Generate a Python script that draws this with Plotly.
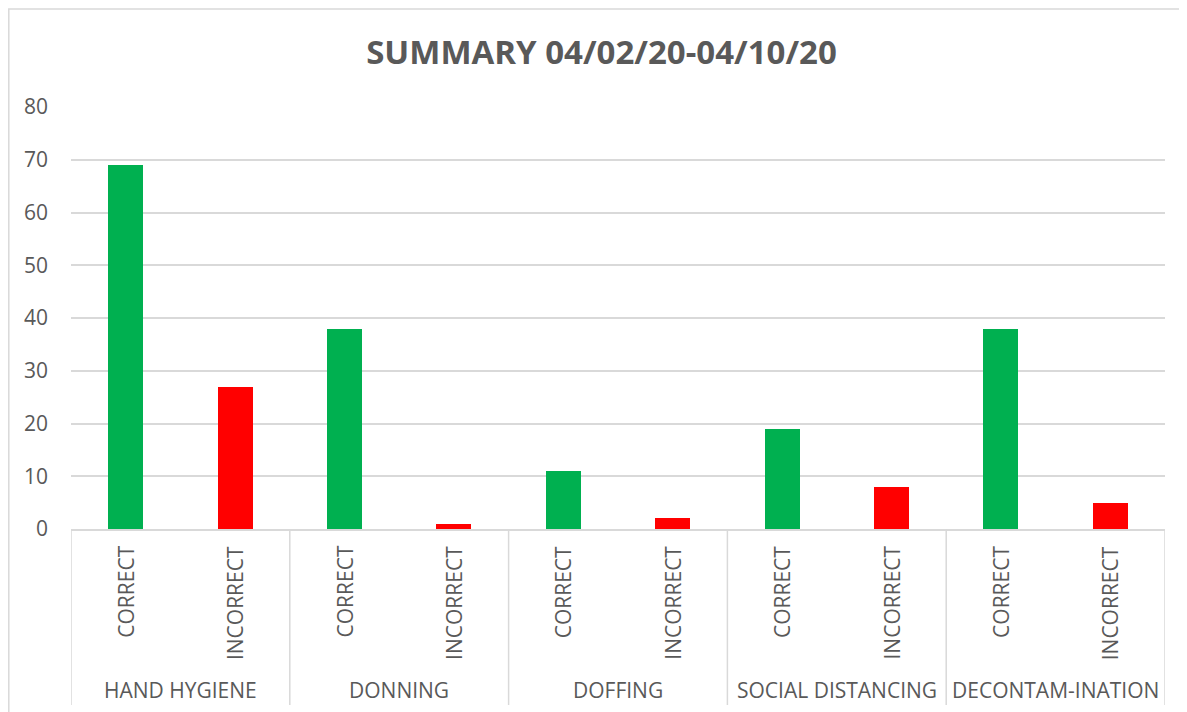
import plotly.graph_objects as go

groups = ["HAND HYGIENE", "DONNING", "DOFFING", "SOCIAL DISTANCING", "DECONTAM-INATION"]
subcats = ["CORRECT", "INCORRECT"]
values = [69, 27, 38, 1, 11, 2, 19, 8, 38, 5]
colors_by_sub = {"CORRECT": "#00B050", "INCORRECT": "#FF0000"}
y_ticks = [0, 10, 20, 30, 40, 50, 60, 70, 80]
title = "SUMMARY 04/02/20-04/10/20"

TEXT = "#595959"
FONT = "Open Sans"

OFF = 8  # page body margin
W, H = 1187 - OFF, 712 - OFF
L, R, T = 71 - OFF, 22, 107 - OFF
B = H - (529 - OFF)
pw, ph = W - L - R, H - T - B

labels = [s for g in groups for s in subcats]
xs = [i + 0.5 for i in range(len(labels))]
bar_colors = [colors_by_sub[s] for s in labels]

fig = go.Figure()
fig.add_trace(go.Bar(x=xs, y=values, marker=dict(color=bar_colors, line=dict(width=0)),
                     width=0.32, showlegend=False, hoverinfo="x+y"))

def py(page_px):
    return (H - B - (page_px - OFF)) / ph

def pxx(page_px):
    return ((page_px - OFF) - L) / pw

shapes = []
annotations = []
# outer chart border
shapes.append(dict(type="rect", xref="paper", yref="paper",
                   x0=pxx(8.8), x1=pxx(1200), y0=py(9), y1=py(730),
                   line=dict(color="#D9D9D9", width=1.5), fillcolor="rgba(0,0,0,0)", layer="below"))
# category separators
n_sub = len(subcats)
for k in range(len(groups) + 1):
    xv = k * n_sub
    shapes.append(dict(type="line", xref="x", yref="paper", x0=xv, x1=xv,
                       y0=0, y1=py(705), line=dict(color="#D9D9D9", width=1.5)))
for x, lab in zip(xs, labels):
    annotations.append(dict(x=x, y=py(544), xref="x", yref="paper", text=lab,
                            textangle=-90, showarrow=False, xanchor="center", yanchor="top",
                            font=dict(family=FONT, size=21, color=TEXT)))
for k, g in enumerate(groups):
    annotations.append(dict(x=k * n_sub + n_sub / 2, y=py(690), xref="x", yref="paper", text=g,
                            showarrow=False, xanchor="center", yanchor="middle",
                            font=dict(family=FONT, size=21, color=TEXT)))

fig.update_layout(
    width=W, height=H,
    margin=dict(l=L, r=R, t=T, b=B),
    paper_bgcolor="white", plot_bgcolor="white",
    title=dict(text="<b>" + title + "</b>", x=0.5 * (1187 / W) - OFF / W * 0.0, xref="container",
               xanchor="center", y=1 - (52 - OFF) / H, yref="container", yanchor="middle",
               font=dict(family=FONT, size=33, color=TEXT)),
    xaxis=dict(range=[0, len(labels)], showticklabels=False, showgrid=False, zeroline=False,
               showline=True, linecolor="#D9D9D9", linewidth=1.5, fixedrange=True),
    yaxis=dict(range=[0, 80], tickvals=y_ticks, showgrid=True, gridcolor="#D9D9D9", gridwidth=1.5,
               zeroline=False, showline=False, ticks="", ticklabelstandoff=22,
               tickfont=dict(family=FONT, size=21, color=TEXT)),
    shapes=shapes, annotations=annotations, bargap=0,
)

fig.write_html("out.html")
